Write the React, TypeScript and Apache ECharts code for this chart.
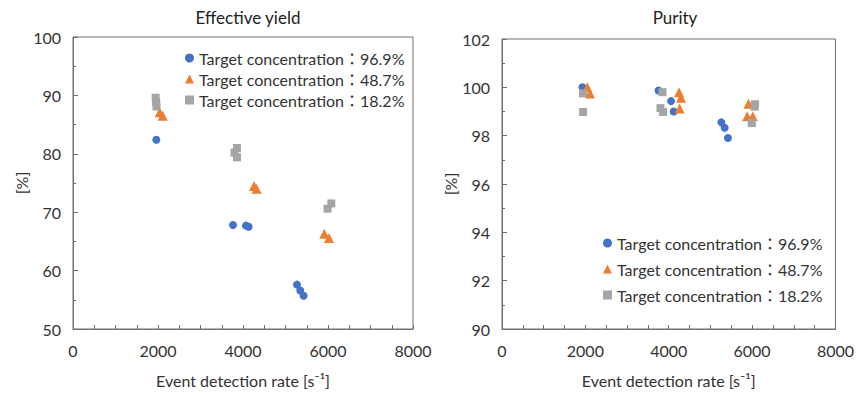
import React, { useEffect, useRef } from "react";
import * as echarts from "echarts";

const seriesNames = [
  "Target concentration：96.9%",
  "Target concentration：48.7%",
  "Target concentration：18.2%",
];

// Effective yield [%] vs event detection rate [s^-1]
const yieldHigh: [number, number][] = [
  [1960, 82.4], [3765, 67.8], [4070, 67.7], [4132, 67.5], [5270, 57.6], [5348, 56.6], [5426, 55.7],
];
const yieldMid: [number, number][] = [
  [2040, 87.1], [2110, 86.5], [4260, 74.5], [4320, 74.0], [5913, 66.3], [6023, 65.6],
];
const yieldLow: [number, number][] = [
  [1945, 89.6], [1955, 88.9], [1965, 88.1], [3858, 81.0], [3800, 80.2], [3858, 79.4], [6078, 71.5], [5990, 70.6],
];

// Purity [%] vs event detection rate [s^-1]
const purityHigh: [number, number][] = [
  [1930, 100.0], [3755, 99.87], [4057, 99.43], [4119, 99.0], [5262, 98.55], [5342, 98.33], [5421, 97.9],
];
const purityMid: [number, number][] = [
  [2048, 100.0], [2112, 99.75], [4248, 99.8], [4295, 99.57], [4262, 99.12], [5914, 99.32], [5881, 98.8], [6017, 98.8],
];
const purityLow: [number, number][] = [
  [1945, 99.75], [1945, 98.98], [3850, 99.8], [3802, 99.14], [3866, 98.98], [6071, 99.3], [6060, 99.2], [5993, 98.52],
];

const xTicks = { min: 0, max: 8000, interval: 2000 };
const yieldTicks = { min: 50, max: 100, interval: 10 };
const purityTicks = { min: 90, max: 102, interval: 2 };

const colors = ["#4472C4", "#ED7D31", "#A5A5A5"];
const symbols = ["circle", "triangle", "rect"];
const FONT = "Lato, 'Noto Sans CJK JP', sans-serif";
const TXT = "#333333";
const LINE = "#707070";

export default function App() {
  const ref = useRef<HTMLDivElement>(null);
  useEffect(() => {
    if (!ref.current) return;
    const chart = echarts.init(ref.current, undefined, { renderer: "svg" });
    const xAxis = (gridIndex: number) => ({
      type: "value",
      gridIndex,
      ...xTicks,
      name: "Event detection rate [s⁻¹]",
      nameLocation: "middle",
      nameGap: 43,
      nameTextStyle: { fontFamily: FONT, fontSize: 16, color: TXT },
      axisLine: { show: true, lineStyle: { color: LINE, width: 1 } },
      axisTick: { show: true, inside: true, length: 4, lineStyle: { color: LINE } },
      minorTick: { show: true, splitNumber: 4, length: 4, lineStyle: { color: LINE } },
      axisLabel: {
        fontFamily: FONT,
        fontSize: 16,
        color: TXT,
        margin: 13,
        formatter: (v: number) => String(v),
      },
      splitLine: { show: false },
    });
    const yAxis = (gridIndex: number, t: any, minorSplit: number) => ({
      type: "value",
      gridIndex,
      ...t,
      name: "[%]",
      nameLocation: "middle",
      nameRotate: 90,
      nameGap: 42,
      nameTextStyle: { fontFamily: FONT, fontSize: 16, color: TXT },
      axisLine: { show: true, lineStyle: { color: LINE, width: 1 } },
      axisTick: { show: true, inside: true, length: 5, lineStyle: { color: LINE } },
      minorTick: { show: true, splitNumber: minorSplit, length: 3, lineStyle: { color: LINE } },
      axisLabel: { fontFamily: FONT, fontSize: 16, color: TXT, margin: 12 },
      splitLine: { show: false },
    });
    const mk = (name: string, i: number, data: [number, number][], gi: number) => ({
      type: "scatter",
      name,
      xAxisIndex: gi,
      yAxisIndex: gi,
      data,
      symbol: symbols[i],
      symbolSize: i === 1 ? 10 : 8,
      itemStyle: { color: colors[i], opacity: 1 },
    });
    chart.setOption({
      animation: false,
      color: colors,
      title: [
        {
          text: "Effective yield",
          left: 243,
          top: 4,
          textAlign: "center",
          textStyle: { fontFamily: FONT, fontSize: 17, fontWeight: "normal", color: "#222" },
        },
        {
          text: "Purity",
          left: 670,
          top: 4,
          textAlign: "center",
          textStyle: { fontFamily: FONT, fontSize: 17, fontWeight: "normal", color: "#222" },
        },
      ],
      legend: [
        {
          orient: "vertical",
          left: 180,
          top: 45,
          itemGap: 5,
          itemWidth: 9,
          itemHeight: 9,
          data: seriesNames,
          textStyle: { fontFamily: FONT, fontSize: 16, color: TXT },
        },
        {
          orient: "vertical",
          left: 598,
          top: 230,
          itemGap: 10,
          itemWidth: 9,
          itemHeight: 9,
          data: seriesNames,
          textStyle: { fontFamily: FONT, fontSize: 16, color: TXT },
        },
      ],
      grid: [
        { left: 73, top: 37, width: 340, height: 295, show: true, borderColor: LINE, borderWidth: 1 },
        { left: 502, top: 39, width: 336, height: 293, show: true, borderColor: LINE, borderWidth: 1 },
      ],
      xAxis: [xAxis(0), xAxis(1)],
      yAxis: [yAxis(0, yieldTicks, 2), yAxis(1, purityTicks, 2)],
      series: [
        mk(seriesNames[0], 0, yieldHigh, 0),
        mk(seriesNames[1], 1, yieldMid, 0),
        mk(seriesNames[2], 2, yieldLow, 0),
        mk(seriesNames[0], 0, purityHigh, 1),
        mk(seriesNames[1], 1, purityMid, 1),
        mk(seriesNames[2], 2, purityLow, 1),
      ],
    });
    return () => chart.dispose();
  }, []);
  return (
    <div
      ref={ref}
      style={{ position: "absolute", left: 0, top: 0, width: 857, height: 393, background: "#fff" }}
    />
  );
}
